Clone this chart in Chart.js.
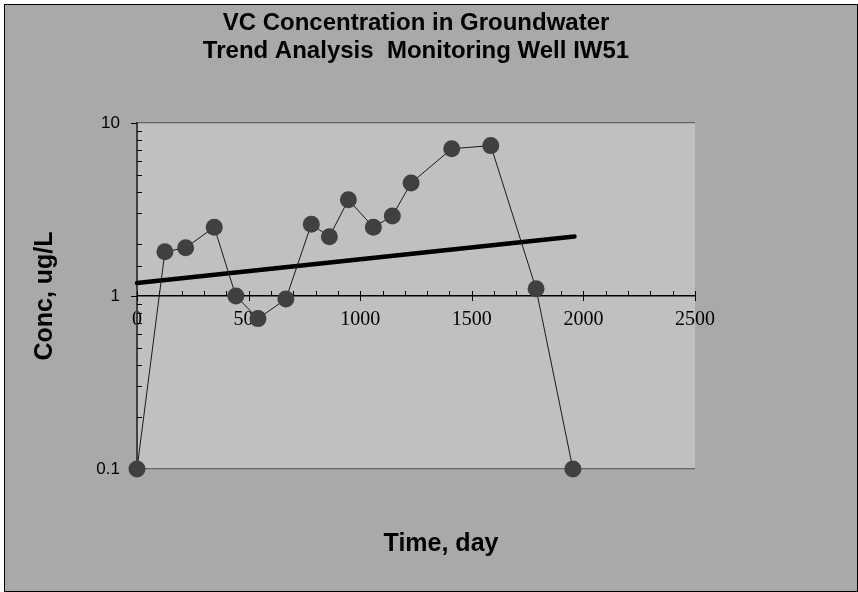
<!DOCTYPE html>
<html>
<head>
<meta charset="utf-8">
<script src="https://cdn.jsdelivr.net/npm/chart.js@4/dist/chart.umd.min.js"></script>
<style>
  html, body { margin: 0; padding: 0; background: #ffffff; }
  canvas { display: block; }
</style>
</head>
<body>
<canvas id="c" width="858" height="592"></canvas>
<script>
// ---- data ----
const days = [0, 125, 218, 346, 443, 542, 667, 781, 862, 947, 1059, 1144, 1228, 1410, 1585, 1788, 1953];
const conc = [0.1, 1.8, 1.9, 2.5, 1.0, 0.74, 0.96, 2.6, 2.2, 3.6, 2.5, 2.9, 4.5, 7.1, 7.4, 1.1, 0.1];
const trendDays = [0, 1960];
const trendConc = [1.19, 2.21];
const xTickValues = [0, 500, 1000, 1500, 2000, 2500];
const xTickLabels = ['0', '500', '1000', '1500', '2000', '2500'];
const yTickValues = [0.1, 1, 10];
const yTickLabels = ['0.1', '1', '10'];
const titleLines = ['VC Concentration in Groundwater', 'Trend Analysis  Monitoring Well IW51'];
const xTitle = 'Time, day';
const yTitle = 'Conc, ug/L';

const concPoints = days.map((d, i) => ({ x: d, y: conc[i] }));
const trendPoints = trendDays.map((d, i) => ({ x: d, y: trendConc[i] }));

function near(a, b) { return Math.abs(Math.log10(a) - Math.log10(b)) < 1e-6; }

const bgPlugin = {
  id: 'bg',
  beforeDraw(chart) {
    const { ctx, chartArea: a } = chart;
    ctx.save();
    ctx.fillStyle = '#ffffff';
    ctx.fillRect(0, 0, chart.width, chart.height);
    ctx.fillStyle = '#a9a9a9';
    ctx.fillRect(4, 4, chart.width - 4, chart.height - 4);
    ctx.strokeStyle = '#000000';
    ctx.lineWidth = 1;
    ctx.strokeRect(4.5, 4.5, chart.width - 5, chart.height - 5);
    ctx.fillStyle = '#c0c0c0';
    ctx.fillRect(a.left, a.top, a.right - a.left, a.bottom - a.top);
    ctx.restore();
  }
};

const tickPlugin = {
  id: 'tickMarks',
  beforeDatasetsDraw(chart) {
    const { ctx } = chart;
    const xs = chart.scales.x, ys = chart.scales.y;
    const y0 = ys.getPixelForValue(1);
    const xL = xs.getPixelForValue(0);
    ctx.save();
    ctx.strokeStyle = '#000000';
    ctx.lineWidth = 1;
    ctx.beginPath();
    xs.ticks.forEach(t => {
      const px = Math.round(xs.getPixelForValue(t.value)) + 0.5;
      const major = xTickValues.includes(t.value);
      ctx.moveTo(px, y0 - 5);
      ctx.lineTo(px, major ? y0 + 5 : y0);
    });
    ys.ticks.forEach(t => {
      const py = Math.round(ys.getPixelForValue(t.value)) + 0.5;
      const major = yTickValues.some(v => near(v, t.value));
      if (major) { ctx.moveTo(xL - 6, py); ctx.lineTo(xL, py); }
      else { ctx.moveTo(xL, py); ctx.lineTo(xL + 5, py); }
    });
    ctx.stroke();
    ctx.restore();
  }
};

new Chart(document.getElementById('c'), {
  type: 'scatter',
  data: {
    datasets: [
      {
        label: 'VC',
        data: concPoints,
        showLine: true,
        borderColor: '#1a1a1a',
        borderWidth: 1,
        pointRadius: 8.5,
        pointHoverRadius: 8.5,
        pointBackgroundColor: '#404040',
        pointBorderColor: '#404040',
        pointBorderWidth: 0,
        clip: false,
        order: 1
      },
      {
        label: 'Trend',
        data: trendPoints,
        showLine: true,
        borderColor: '#000000',
        borderWidth: 4.5,
        borderCapStyle: 'round',
        pointRadius: 0,
        clip: false,
        order: 2
      }
    ]
  },
  options: {
    responsive: false,
    animation: false,
    devicePixelRatio: 1,
    layout: { padding: { left: 24, right: 0, top: 0, bottom: 0 } },
    plugins: {
      legend: { display: false },
      tooltip: { enabled: false },
      title: {
        display: true,
        fullSize: false,
        text: titleLines,
        color: '#000000',
        font: { family: 'Liberation Sans, Arial, sans-serif', size: 24, weight: 'bold', lineHeight: 1.2 },
        padding: { top: 8.6, bottom: 56.8 }
      },
      subtitle: {
        display: true,
        position: 'bottom',
        text: xTitle,
        color: '#000000',
        font: { family: 'Liberation Sans, Arial, sans-serif', size: 25, weight: 'bold', lineHeight: 1.2 },
        padding: { top: 60, bottom: 33 }
      }
    },
    scales: {
      x: {
        type: 'linear',
        position: { y: 1 },
        min: 0,
        max: 2500,
        afterFit(scale) { scale.height = 0; },
        ticks: {
          stepSize: 100,
          autoSkip: false,
          maxRotation: 0,
          padding: 12,
          color: '#000000',
          font: { family: 'Liberation Serif, Times New Roman, serif', size: 20 },
          callback(v) {
            const i = xTickValues.indexOf(v);
            return i >= 0 ? xTickLabels[i] : '';
          }
        },
        grid: { display: true, drawOnChartArea: false, drawTicks: false },
        border: { display: true, color: '#000000', width: 1.5 }
      },
      y: {
        type: 'logarithmic',
        position: 'left',
        min: 0.1,
        max: 10,
        afterFit(scale) { scale.width = 113; },
        ticks: {
          autoSkip: false,
          padding: 17,
          color: '#000000',
          font: { family: 'Liberation Sans, Arial, sans-serif', size: 17 },
          callback(v) {
            const i = yTickValues.findIndex(t => near(t, v));
            return i >= 0 ? yTickLabels[i] : '';
          }
        },
        grid: {
          drawTicks: false,
          lineWidth: 1.2,
          color(ctx) {
            const v = ctx.tick && ctx.tick.value;
            if (v === undefined) return 'transparent';
            return (near(v, 0.1) || near(v, 10)) ? '#666666' : 'transparent';
          }
        },
        border: { display: true, color: '#404040', width: 2 },
        title: {
          display: true,
          text: yTitle,
          color: '#000000',
          font: { family: 'Liberation Sans, Arial, sans-serif', size: 25, weight: 'bold', lineHeight: 1.2 },
          padding: { top: 6, bottom: 0 }
        }
      },
      yR: {
        type: 'linear',
        position: 'right',
        display: true,
        afterFit(scale) { scale.width = 163; },
        ticks: { display: false },
        grid: { display: false, drawTicks: false },
        border: { display: false }
      }
    }
  },
  plugins: [bgPlugin, tickPlugin]
});
</script>
</body>
</html>
